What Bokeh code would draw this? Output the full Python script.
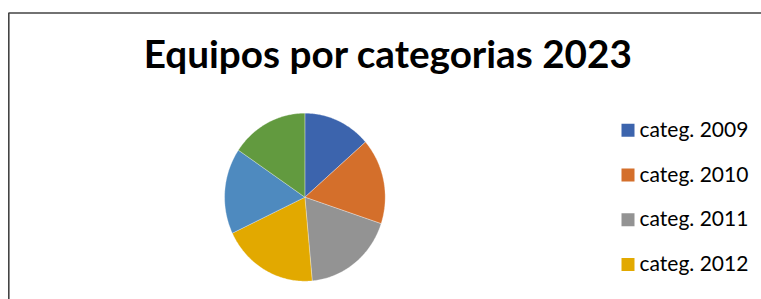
import numpy as np
from bokeh.plotting import figure
from bokeh.models import Range1d
from bokeh.core.properties import value
from bokeh.embed import file_html
from bokeh.resources import INLINE

# ---- data ----
title_text = "Equipos por categorias 2023"
categories = ["categ. 2009", "categ. 2010", "categ. 2011", "categ. 2012", "categ. 2013", "categ. 2014"]
teams = [14, 17, 19, 20, 17, 16]
colors = ["#3C64AD", "#D46F2B", "#939393", "#E2A900", "#4E8ABF", "#629A3F"]

W, H = 761, 299
p = figure(width=W, height=H, output_backend="svg", toolbar_location=None,
           x_range=Range1d(0, W), y_range=Range1d(0, H), min_border=0)
p.axis.visible = False
p.grid.visible = False
p.outline_line_color = None
p.background_fill_color = "white"
p.border_fill_color = "white"

# chart border (cut off at right and bottom like the reference)
p.line(x=[8.3, 8.3, W + 10], y=[-10, H - 12.5, H - 12.5], line_color="#444444", line_width=1.6)

# pie (slightly elliptical, clockwise from 12 o'clock)
cx, cy, rx, ry = 304.4, H - 196.7, 80.3, 84.0
vals = np.array(teams, dtype=float)
ends = np.cumsum(vals) / vals.sum() * 2 * np.pi
starts = np.concatenate([[0.0], ends[:-1]])
xs, ys = [], []
for a0, a1 in zip(starts, ends):
    t = np.linspace(a0, a1, 80)
    xs.append(np.concatenate([[cx], cx + rx * np.sin(t)]).tolist())
    ys.append(np.concatenate([[cy], cy + ry * np.cos(t)]).tolist())
p.patches(xs=xs, ys=ys, fill_color=colors, line_color="white", line_width=0.6, line_alpha=0.5)

# title
p.text(x=[387.7], y=[H - 52.2], text=[title_text], text_font=value("Lato"),
       text_font_style="bold", text_font_size="38.7px", text_align="center",
       text_baseline="alphabetic", text_color="black")

# legend (entries below the visible area are cut off, as in the reference)
spacing = 44.77
sq_screen = 129.7 + np.arange(len(categories)) * spacing
vis = [i for i in range(len(categories)) if sq_screen[i] + 6.5 < H]
sq_y = [H - sq_screen[i] for i in vis]
tx_y = [H - (127.8 + i * spacing) for i in vis]
p.rect(x=[627.5] * len(vis), y=sq_y, width=13, height=13,
       fill_color=[colors[i] for i in vis], line_color=None)
p.text(x=[639] * len(vis), y=tx_y, text=[categories[i] for i in vis],
       text_font=value("Lato"), text_font_size="21px", text_align="left",
       text_baseline="alphabetic", text_color="black")

open("out.html", "w").write(file_html(p, INLINE))
